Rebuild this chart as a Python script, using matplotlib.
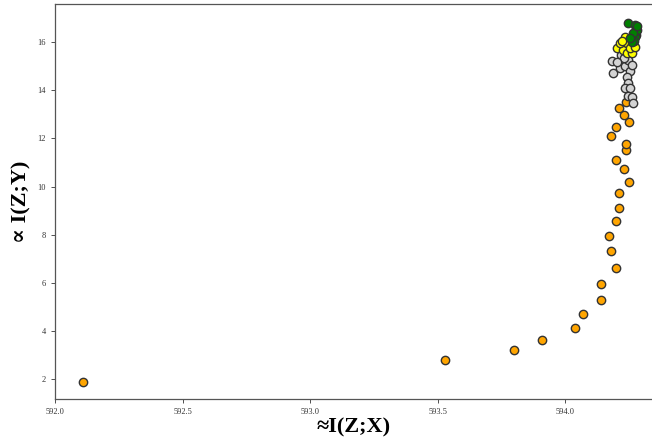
import matplotlib
matplotlib.use("Agg")
import matplotlib.pyplot as plt

plt.rcParams["font.family"] = ["Liberation Serif", "DejaVu Serif"]

# early training steps (orange)
orange_x = [592.11, 593.53, 593.80, 593.91, 594.04, 594.07, 594.14, 594.14,
            594.20, 594.18, 594.17, 594.20, 594.21, 594.21, 594.25, 594.23,
            594.20, 594.24, 594.24, 594.18, 594.20, 594.25, 594.23, 594.21,
            594.24]
orange_y = [1.87, 2.79, 3.21, 3.62, 4.12, 4.67, 5.29, 5.96,
            6.62, 7.33, 7.92, 8.58, 9.12, 9.71, 10.17, 10.71,
            11.12, 11.50, 11.79, 12.12, 12.46, 12.67, 12.96, 13.25,
            13.54]

gray_x = [594.184, 594.188, 594.216, 594.235, 594.247, 594.220, 594.255,
          594.263, 594.243, 594.247, 594.235, 594.255, 594.247, 594.263,
          594.267, 594.231, 594.204]
gray_y = [15.21, 14.71, 14.92, 15.00, 15.25, 15.46, 14.83,
          15.08, 14.54, 14.33, 14.12, 14.12, 13.79, 13.71,
          13.46, 15.37, 15.17]

yellow_x = [594.204, 594.227, 594.243, 594.263, 594.235, 594.243, 594.263,
            594.216, 594.255, 594.275, 594.224]
yellow_y = [15.75, 15.67, 15.58, 15.58, 16.21, 15.96, 15.88,
            15.96, 15.75, 15.79, 16.08]

green_x = [594.247, 594.275, 594.278, 594.278, 594.278, 594.275, 594.271,
           594.263, 594.282, 594.267, 594.255, 594.282]
green_y = [16.83, 16.71, 16.58, 16.46, 16.33, 16.21, 16.08,
           16.00, 16.50, 16.38, 16.17, 16.67]

fig = plt.figure(figsize=(6.52, 4.41), dpi=100)
ax = fig.add_axes([0.0844, 0.0952, 0.9156, 0.8957])

groups = [
    (orange_x, orange_y, "orange"),
    (gray_x, gray_y, "lightgray"),
    (yellow_x, yellow_y, "yellow"),
    (green_x, green_y, "green"),
]
for xs, ys, color in groups:
    ax.scatter(xs, ys, s=36, c=color, edgecolors="#333333", linewidths=1.0, zorder=3)

ax.set_xlim(592.0, 594.34)
ax.set_ylim(1.15, 17.6)
ax.set_xticks([592.0, 592.5, 593.0, 593.5, 594.0])
ax.set_yticks([2, 4, 6, 8, 10, 12, 14, 16])
ax.tick_params(labelsize=6, length=3, width=0.6, colors="#333333")
ax.spines["right"].set_visible(False)
for side in ["left", "bottom", "top"]:
    ax.spines[side].set_color("#555555")
    ax.spines[side].set_linewidth(0.9)

ax.set_xlabel("\u2248I(Z;X)", fontsize=16, fontweight="bold", labelpad=1)
ax.set_ylabel("\u221d I(Z;Y)", fontsize=16, fontweight="bold", labelpad=4)

fig.savefig("out.png", dpi=100)
